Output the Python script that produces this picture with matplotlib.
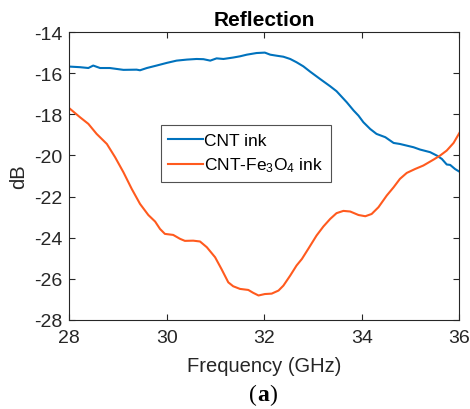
import matplotlib
matplotlib.use("Agg")
import matplotlib.pyplot as plt

plt.rcParams['font.family'] = ['Liberation Sans', 'DejaVu Sans']
plt.rcParams['mathtext.fontset'] = 'custom'
plt.rcParams['mathtext.rm'] = 'Liberation Sans'
plt.rcParams['mathtext.it'] = 'Liberation Sans:italic'
plt.rcParams['mathtext.bf'] = 'Liberation Sans:bold'

# CNT ink reflection (dB) vs frequency (GHz)
cnt_freq = [28.00, 28.22, 28.39, 28.49, 28.63, 28.83, 29.11, 29.38, 29.45, 29.59,
            29.79, 30.00, 30.20, 30.41, 30.61, 30.75, 30.89, 31.02, 31.16, 31.36,
            31.50, 31.64, 31.84, 32.01, 32.12, 32.25, 32.39, 32.53, 32.66, 32.80,
            32.94, 33.14, 33.35, 33.48, 33.69, 33.83, 33.93, 34.03, 34.17, 34.30,
            34.48, 34.65, 34.78, 34.92, 35.06, 35.19, 35.40, 35.54, 35.64, 35.74,
            35.81, 35.91, 36.00]
cnt_db = [-15.67, -15.70, -15.74, -15.62, -15.74, -15.74, -15.83, -15.82, -15.85, -15.74,
          -15.62, -15.49, -15.38, -15.33, -15.30, -15.31, -15.38, -15.27, -15.30, -15.23,
          -15.17, -15.09, -15.01, -14.99, -15.09, -15.14, -15.19, -15.30, -15.46, -15.66,
          -15.92, -16.27, -16.63, -16.87, -17.41, -17.81, -18.06, -18.38, -18.71, -18.95,
          -19.11, -19.39, -19.44, -19.52, -19.60, -19.71, -19.84, -20.01, -20.17, -20.44,
          -20.46, -20.66, -20.79]

# CNT-Fe3O4 ink reflection (dB) vs frequency (GHz)
fe_freq = [28.00, 28.22, 28.39, 28.56, 28.77, 28.94, 29.11, 29.28, 29.45, 29.62,
           29.76, 29.86, 29.96, 30.13, 30.27, 30.37, 30.54, 30.68, 30.82, 30.99,
           31.12, 31.26, 31.36, 31.50, 31.67, 31.77, 31.88, 32.01, 32.15, 32.29,
           32.39, 32.53, 32.66, 32.77, 32.90, 33.07, 33.21, 33.35, 33.48, 33.62,
           33.76, 33.93, 34.07, 34.20, 34.34, 34.51, 34.65, 34.78, 34.92, 35.09,
           35.26, 35.47, 35.60, 35.74, 35.88, 36.00]
fe_db = [-17.70, -18.14, -18.46, -18.95, -19.44, -20.09, -20.82, -21.63, -22.36, -22.90,
         -23.22, -23.58, -23.82, -23.87, -24.06, -24.16, -24.15, -24.19, -24.47, -24.96,
         -25.53, -26.18, -26.37, -26.50, -26.55, -26.69, -26.82, -26.75, -26.73, -26.58,
         -26.34, -25.85, -25.36, -25.04, -24.55, -23.90, -23.46, -23.09, -22.81, -22.70,
         -22.73, -22.90, -22.96, -22.85, -22.52, -21.95, -21.55, -21.14, -20.85, -20.66,
         -20.49, -20.20, -20.01, -19.76, -19.39, -18.90]

x_ticks = [28, 30, 32, 34, 36]
y_ticks = [-28, -26, -24, -22, -20, -18, -16, -14]

fig = plt.figure(figsize=(4.7, 4.1), dpi=100)
ax = fig.add_axes([0.1475, 0.2178, 0.83, 0.701])

ax.plot(cnt_freq, cnt_db, color='#0072BD', lw=1.5, label='CNT ink')
ax.plot(fe_freq, fe_db, color='#FF5A1E', lw=1.5, label='CNT-Fe$_3$O$_4$ ink')

ax.set_xlim(28, 36)
ax.set_ylim(-28, -14)
ax.set_xticks(x_ticks)
ax.set_yticks(y_ticks)
ax.set_xticklabels([str(t) for t in x_ticks])
ax.set_yticklabels([str(t) for t in y_ticks])
ax.tick_params(direction='in', top=True, right=True, labelsize=14,
               colors='#262626', length=4, width=0.8)
ax.tick_params(axis='x', pad=7)
ax.tick_params(axis='y', pad=5)
for s in ax.spines.values():
    s.set_color('#262626')
    s.set_linewidth(0.8)

ax.set_xlabel('Frequency (GHz)', fontsize=14.5, color='#262626', labelpad=7)
ax.set_ylabel('dB', fontsize=14.5, color='#262626', labelpad=4)
ax.set_title('Reflection', fontsize=15, fontweight='bold', color='black', pad=5)

leg = ax.legend(loc='upper left', bbox_to_anchor=(0.234, 0.678), fontsize=12.5,
                frameon=True, fancybox=False, edgecolor='#262626',
                handlelength=2.0, handletextpad=0.05, borderpad=0.45,
                labelspacing=0.45, borderaxespad=0)
leg.get_frame().set_linewidth(0.8)
for t in leg.get_texts():
    t.set_color('black')

fig.text(0.547, 0.022, '(', fontsize=17, family='Liberation Serif', ha='right', va='baseline')
fig.text(0.547, 0.022, 'a', fontsize=17, family='Liberation Serif', fontweight='bold',
         ha='left', va='baseline')
fig.text(0.5725, 0.022, ')', fontsize=17, family='Liberation Serif', ha='left', va='baseline')

fig.savefig('out.png', dpi=100)
